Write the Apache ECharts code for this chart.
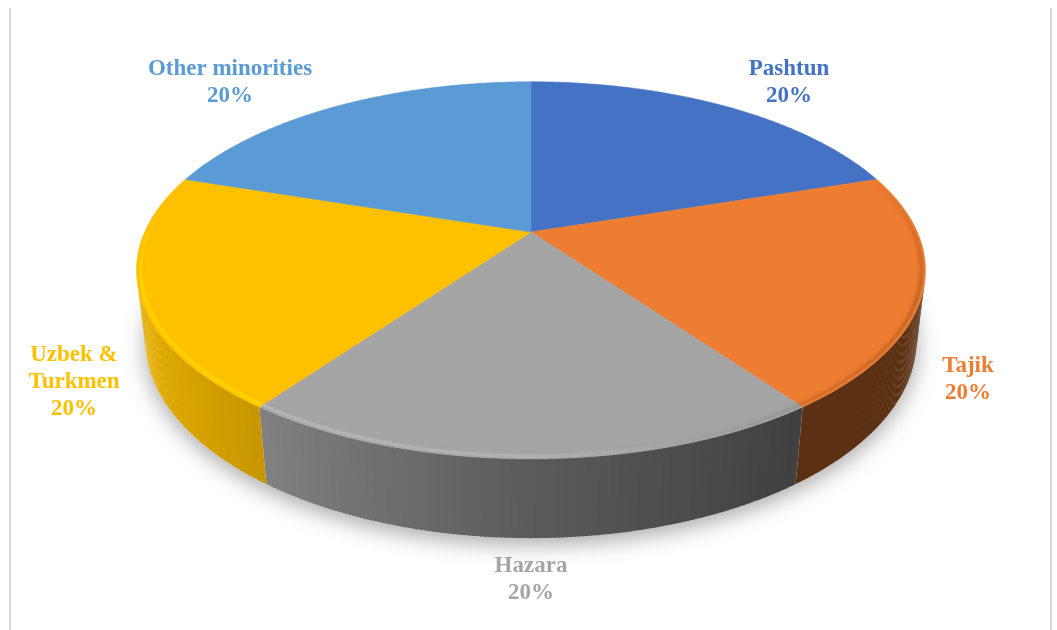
<!DOCTYPE html>
<html>
<head>
<meta charset="utf-8">
<script src="https://cdn.jsdelivr.net/npm/echarts@6/dist/echarts.min.js"></script>
<style>
    html, body { margin: 0; padding: 0; background: #fff; }
    #main { width: 1057px; height: 630px; }
</style>
</head>
<body>
<div id="main"></div>
<script>
    // data
    var categories = ['Pashtun', 'Tajik', 'Hazara', 'Uzbek &\nTurkmen', 'Other minorities'];
    var values = [20, 20, 20, 20, 20];

    // styles / layout
    var colors = ['#4472C4', '#ED7D31', '#A5A5A5', '#FFC000', '#5B9BD5'];
    var labelPos = [[789, 83], [968, 380], [531, 580], [74, 382], [230, 83]];

    // 3d view of the pie (centre, focal length, distance, tilt, thickness)
    var CX = 531, CY = 232, F = 1680, D = 4.35, PHI = 27.9 * Math.PI / 180, T = 0.205;
    var S = Math.sin(PHI), C = Math.cos(PHI);

    function proj(th, r, h) {
        var u = r * Math.sin(th), v = r * Math.cos(th);
        var z = D + v * C - h * S;
        var yc = v * S + h * C;
        return [CX + F * u / z, CY - F * yc / z];
    }

    function lerpTable(tab, x) {
        if (x <= tab[0][0]) return tab[0][1];
        for (var i = 1; i < tab.length; i++) {
            if (x <= tab[i][0]) {
                var t = (x - tab[i - 1][0]) / (tab[i][0] - tab[i - 1][0]);
                return tab[i - 1][1] + t * (tab[i][1] - tab[i - 1][1]);
            }
        }
        return tab[tab.length - 1][1];
    }
    // light comes from the left
    var sideTab = [[-1, 0.92], [-0.588, 0.78], [0, 0.55], [0.588, 0.39], [1, 0.38]];
    var bevelTab = [[-1, 1.12], [0, 1.1], [0.6, 0.9], [1, 0.82]];

    function shade(hex, k) {
        var n = parseInt(hex.slice(1), 16);
        var r = Math.min(255, Math.round(((n >> 16) & 255) * k));
        var g = Math.min(255, Math.round(((n >> 8) & 255) * k));
        var b = Math.min(255, Math.round((n & 255) * k));
        return 'rgb(' + r + ',' + g + ',' + b + ')';
    }

    var total = 0;
    var starts = [];
    for (var i = 0; i < values.length; i++) {
        starts.push(total);
        total += values[i];
    }

    function renderSlice(params, api) {
        var i = params.dataIndex;
        var a0 = starts[i] / total * 2 * Math.PI;
        var a1 = a0 + api.value(0) / total * 2 * Math.PI;
        var n = Math.max(8, Math.ceil((a1 - a0) / (Math.PI / 360)));
        var step = (a1 - a0) / n;
        var over = Math.PI / 900;
        var children = [];
        var top = [proj(0, 0, 0)];
        for (var k = 0; k <= n; k++) {
            top.push(proj(a0 + step * k, 1, 0));
        }
        // outer wall, only the parts facing us
        for (var k = 0; k < n; k++) {
            var ta = a0 + step * k, tb = a0 + step * (k + 1);
            var te = Math.min(a1, tb + over);
            var p = [proj(ta, 1, 0), proj(te, 1, 0), proj(te, 1, -T), proj(ta, 1, -T)];
            var area = 0;
            for (var j = 0; j < 4; j++) {
                var q = p[(j + 1) % 4];
                area += p[j][0] * q[1] - q[0] * p[j][1];
            }
            var mid = (ta + tb) / 2;
            if (area < 0) {
                var col = shade(colors[i], lerpTable(sideTab, Math.sin(mid)));
                children.push({
                    type: 'polygon', shape: { points: p },
                    style: { fill: col }, z2: 1
                });
            }
            // rounded rim on the top face
            var bk = lerpTable(bevelTab, Math.sin(mid));
            var w = Math.min(1, Math.max(0, 0.3 - Math.cos(mid)) / 0.6);
            if (w > 0) {
                bk = 1 + (bk - 1) * w;
                var bcol = shade(colors[i], bk);
                var b1 = proj(ta, 0.99, 0), b2 = proj(te, 0.99, 0);
                children.push({
                    type: 'line',
                    shape: { x1: b1[0], y1: b1[1], x2: b2[0], y2: b2[1] },
                    style: { stroke: bcol, lineWidth: 3, opacity: 0.6, shadowBlur: 3, shadowColor: bcol }, z2: 6
                });
            }
        }
        children.push({
            type: 'polygon', shape: { points: top },
            style: { fill: colors[i], stroke: colors[i], lineWidth: 0.6 }, z2: 5
        });
        var pct = Math.round(api.value(0) / total * 100) + '%';
        children.push({
            type: 'text', x: labelPos[i][0], y: labelPos[i][1],
            style: {
                text: categories[i] + '\n' + pct, fill: colors[i],
                font: 'bold 23px "Liberation Serif"', align: 'center', verticalAlign: 'middle',
                lineHeight: 27
            }, z2: 10
        });
        return { type: 'group', children: children };
    }

    function renderShadow() {
        var pts = [];
        for (var k = 0; k < 360; k++) pts.push(proj(k * Math.PI / 180, 1, -T));
        return {
            type: 'polygon', shape: { points: pts },
            style: { fill: '#ffffff', shadowBlur: 22, shadowColor: 'rgba(0,0,0,0.35)', shadowOffsetY: 6 }
        };
    }

    var myChart = echarts.init(document.getElementById('main'));
    var option = {
        animation: false,
        backgroundColor: '#ffffff',
        graphic: [
            { type: 'line', shape: { x1: 10, y1: 8, x2: 10, y2: 630 }, style: { stroke: '#d9d9d9', lineWidth: 2 } },
            { type: 'line', shape: { x1: 1051, y1: 8, x2: 1051, y2: 630 }, style: { stroke: '#d9d9d9', lineWidth: 2 } }
        ],
        series: [
            { type: 'custom', coordinateSystem: 'none', z: 1, data: [0], renderItem: renderShadow, silent: true },
            {
                type: 'custom', coordinateSystem: 'none', z: 2,
                data: values.map(function (v, i) { return { name: categories[i], value: [v] }; }),
                renderItem: renderSlice
            }
        ]
    };
    myChart.setOption(option);
</script>
</body>
</html>
